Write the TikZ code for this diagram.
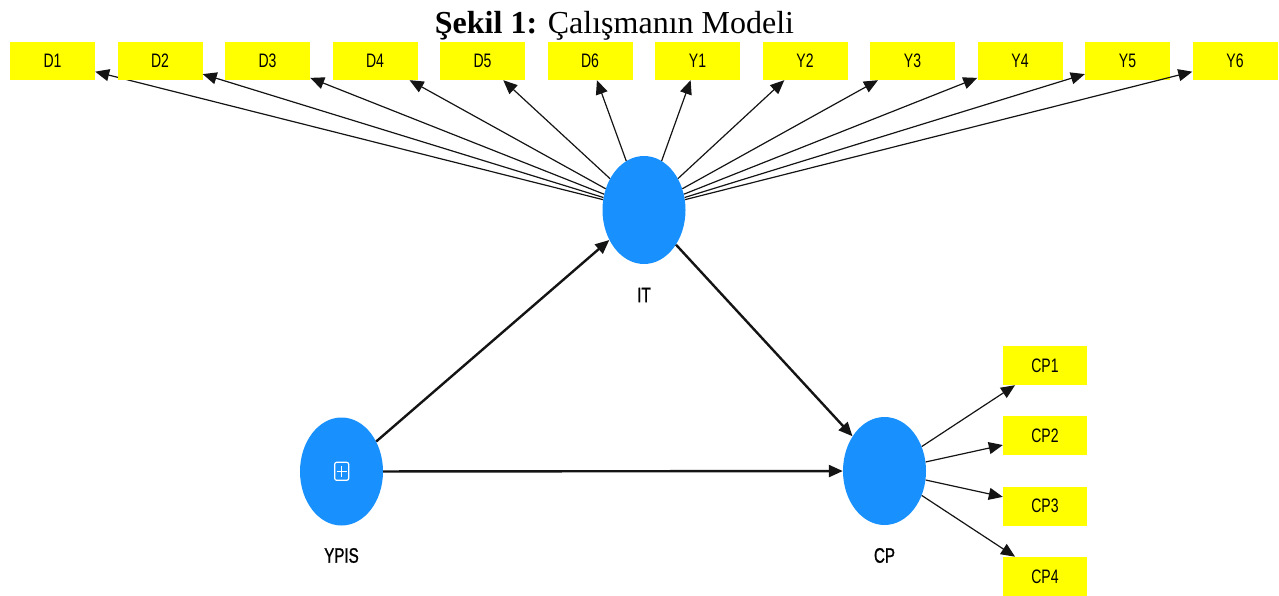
\documentclass[tikz,border=0pt]{standalone}
\usepackage{fontspec}
\setmainfont{Liberation Serif}
\newfontfamily\narrowfont[FakeStretch=0.72]{Liberation Sans}
\newfontfamily\narrowboldfont[FakeStretch=0.72,FakeBold=1.2]{Liberation Sans}
\usetikzlibrary{shapes.geometric,arrows.meta}
\definecolor{lvblue}{RGB}{24,145,255}
\definecolor{indyellow}{RGB}{255,255,0}
\definecolor{arrowcol}{RGB}{20,20,20}
\tikzset{
  indbox/.style={fill=indyellow, draw=none, minimum width=85pt, minimum height=38pt, inner sep=0pt,
    font=\narrowfont\fontsize{19.5}{19.5}\selectfont},
  latent/.style={ellipse, fill=lvblue, draw=none, minimum width=83pt, minimum height=108pt, inner sep=0pt},
  lvlabel/.style={font=\narrowboldfont\fontsize{21}{21}\selectfont, inner sep=0pt},
  indarrow/.style={draw=arrowcol, line width=1.2pt, -{Triangle[length=14pt,width=12pt]}},
  patharrow/.style={draw=arrowcol, line width=2.4pt, -{Triangle[length=14pt,width=12pt]}},
}
\begin{document}
\begin{tikzpicture}[x=1pt,y=-1pt]
\useasboundingbox (0,0) rectangle (1279,596);
% title
\node[anchor=base, inner sep=0pt, font=\fontsize{32}{32}\selectfont] (title) at (614.5,34) {\textbf{Şekil 1:} Çalışmanın Modeli};
% latent variables
\node[latent] (IT) at (644,210) {};
\node[latent] (YPIS) at (341.5,471.5) {};
\node[latent] (CP) at (884.5,471) {};
\node[lvlabel] (ITl) at (644,295) {IT};
\node[lvlabel] (YPISl) at (341.5,555.5) {YPIS};
\node[lvlabel] (CPl) at (884.5,555.5) {CP};
% plus icon
\node[draw=white, line width=1.2pt, rounded corners=2pt, minimum width=14pt, minimum height=18pt, inner sep=0pt] (icon) at (341.7,471.3) {};
\draw[white, line width=1.1pt] ([xshift=2.5pt]icon.west) -- ([xshift=-2.5pt]icon.east);
\draw[white, line width=1.1pt] ([yshift=-4pt]icon.north) -- ([yshift=4pt]icon.south);
% indicator boxes top
\foreach \lab [count=\i from 0] in {D1,D2,D3,D4,D5,D6,Y1,Y2,Y3,Y4,Y5,Y6} {
  \node[indbox] (\lab) at (52.5+107.5*\i,61) {\lab};
  \draw[indarrow] (IT) -- (\lab);
}
% CP indicators
\foreach \lab [count=\i from 0] in {CP1,CP2,CP3,CP4} {
  \node[indbox, minimum width=84pt, minimum height=39pt] (\lab) at (1045,365.5+70.3*\i) {\lab};
  \draw[indarrow] (CP) -- (\lab);
}
% structural paths
\draw[patharrow] (YPIS) -- (IT);
\draw[patharrow] (IT) -- (CP);
\draw[patharrow] (YPIS) -- (CP);
\end{tikzpicture}
\end{document}
